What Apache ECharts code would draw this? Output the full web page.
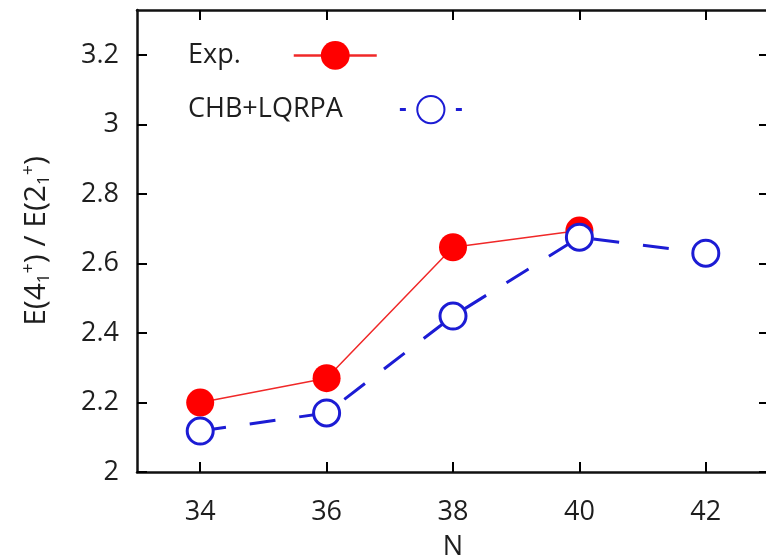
<!DOCTYPE html>
<html><head><meta charset="utf-8">
<script src="https://cdn.jsdelivr.net/npm/echarts@6/dist/echarts.min.js"></script>
<style>html,body{margin:0;padding:0;background:#fff}#c{width:766px;height:558px}</style>
</head><body><div id="c"></div>
<script>
const nValues = [34, 36, 38, 40, 42];
const expRatio = [2.20, 2.27, 2.647, 2.695];
const chbRatio = [2.118, 2.17, 2.449, 2.676, 2.63];
const xTicks = [34, 36, 38, 40, 42];
const yTicks = [2, 2.2, 2.4, 2.6, 2.8, 3, 3.2];

const FONT = '"Open Sans", "Noto Sans", sans-serif';
const TXT = '#1e1e1e';
const chart = echarts.init(document.getElementById('c'), null, {renderer: 'canvas'});
function line() { return {show: true, onZero: false, lineStyle: {color: '#111', width: 2.5}}; }
function tick(extra) { return Object.assign({show: true, inside: false, length: -10, lineStyle: {color: '#000', width: 2}}, extra || {}); }
chart.setOption({
  animation: false,
  grid: {left: 137, right: -3, top: 10, bottom: 86, outerBoundsMode: 'none', containLabel: false},
  legend: [
    {data: ['Exp.'], left: 183, top: 36, orient: 'vertical', align: 'right',
     itemWidth: 83, itemHeight: 36, selectedMode: false,
     lineStyle: {width: 2.5},
     textStyle: {fontFamily: FONT, fontSize: 27, color: TXT, padding: [0, 48, 0, 0]}},
    {data: ['CHB+LQRPA'], left: 183, top: 90, orient: 'vertical', align: 'right',
     itemWidth: 62, itemHeight: 34, selectedMode: false,
     lineStyle: {type: [6, 50], width: 3},
     textStyle: {fontFamily: FONT, fontSize: 27, color: TXT, padding: [0, 52, 0, 0]}}
  ],
  xAxis: [
    {type: 'value', min: 33, max: 43, position: 'bottom',
      name: 'N', nameLocation: 'middle', nameGap: 62,
      nameTextStyle: {fontFamily: FONT, fontSize: 27, color: TXT},
      axisLine: line(), splitLine: {show: false},
      axisTick: tick({customValues: xTicks}),
      axisLabel: {fontFamily: FONT, fontSize: 27, color: TXT, margin: 27, customValues: xTicks}},
    {type: 'value', min: 33, max: 43, position: 'top', axisLine: line(), splitLine: {show: false},
      axisTick: tick({customValues: xTicks}),
      axisLabel: {show: false, customValues: xTicks}}
  ],
  yAxis: [
    {type: 'value', min: 2, max: 3.33, position: 'left',
      name: 'E(4{sub|1}{sup|+}) / E(2{sub|1}{sup|+})', nameLocation: 'middle', nameGap: 84, nameRotate: 90,
      nameTextStyle: {fontFamily: FONT, fontSize: 30, color: TXT,
        rich: {sub: {fontFamily: FONT, fontSize: 17, color: TXT, verticalAlign: 'bottom', padding: [13,0,0,0]},
               sup: {fontFamily: FONT, fontSize: 18, color: TXT, verticalAlign: 'top', padding: [0,0,15,0]}}},
      axisLine: line(), splitLine: {show: false}, axisTick: tick({customValues: yTicks}),
      axisLabel: {fontFamily: FONT, fontSize: 27, color: TXT, margin: 18, customValues: yTicks}},
    {type: 'value', min: 2, max: 3.33, position: 'right', axisLine: line(), splitLine: {show: false},
      axisTick: tick({customValues: yTicks}), axisLabel: {show: false, customValues: yTicks}}
  ],
  series: [
    {name: 'Exp.', type: 'line', xAxisIndex: 0, yAxisIndex: 0,
     data: expRatio.map((v, i) => [nValues[i], v]),
     symbol: 'circle', symbolSize: 28,
     itemStyle: {color: '#ff0000', borderWidth: 0},
     lineStyle: {color: '#f02828', width: 1.5}, z: 2},
    {name: 'CHB+LQRPA', type: 'line', xAxisIndex: 0, yAxisIndex: 0,
     data: chbRatio.map((v, i) => [nValues[i], v]),
     symbol: 'circle', symbolSize: 26,
     itemStyle: {color: '#ffffff', borderColor: '#1c1cd4', borderWidth: 3},
     lineStyle: {color: '#1c1cd4', width: 3, type: [26, 24]}, z: 3}
  ]
});
</script></body></html>
